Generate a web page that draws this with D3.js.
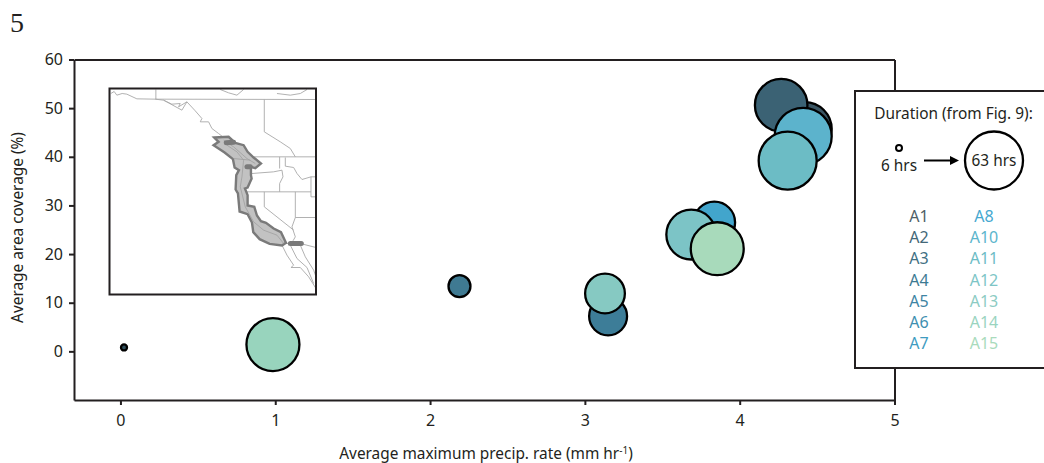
<!DOCTYPE html>
<html>
<head>
<meta charset="utf-8">
<script src="https://cdn.jsdelivr.net/npm/d3@7"></script>
<style>
body { margin: 0; background: white; }
text { font-family: "Noto Sans", "Open Sans", sans-serif; fill: #231f20; }
.tick text { font-size: 16px; }
.tick line, .domain { stroke: #231f20; stroke-width: 2px; }
</style>
</head>
<body>
<svg id="chart" width="1044" height="463"></svg>
<script>
// values, drawing order is back to front
const regimes = ["A1", "A2", "A3", "A4", "A5", "A8", "A10", "A11", "A12", "A13", "A14", "A15"]
const precipRate = [4.42, 4.268, 0.023, 2.19, 3.15, 3.836, 4.41, 4.31, 3.687, 3.13, 0.985, 3.855]
const areaCoverage = [45.7, 50.6, 0.8, 13.4, 7.2, 26.5, 44.2, 39.2, 24, 11.9, 1.4, 21.1]
const durationHrs = [58.6, 57, 6, 23.5, 41, 45, 62, 63, 54, 43, 57.5, 57.5]
const bubbleColors = ["#3a5563", "#3b6274", "#2f4f5c", "#3f7a92", "#3d7d98", "#42a5cc", "#5cb3cc", "#6cbcc5", "#7cc4c6", "#86c9c2", "#98d4bd", "#a8dabb"]

const xTicks = [0, 1, 2, 3, 4, 5]
const yTicks = [0, 10, 20, 30, 40, 50, 60]

const legendCol1 = ["A1", "A2", "A3", "A4", "A5", "A6", "A7"]
const legendCol2 = ["A8", "A10", "A11", "A12", "A13", "A14", "A15"]
const legendCol1Colors = ["#4f5f68", "#436777", "#3f7083", "#3d7a92", "#3e84a3", "#3f8fb0", "#3f9cc1"]
const legendCol2Colors = ["#46a8d0", "#5cb5cc", "#6cbcc5", "#7dc5c6", "#8ccbc3", "#9ad4bf", "#a9dbbc"]

// inset map, traced in its own grid (box is 28-647 by 25-643)
const mapBorders = [
    [[32, 40], [42, 34], [50, 45], [66, 40], [80, 42], [110, 56], [165, 57], [190, 60], [215, 72], [240, 70], [235, 80], [260, 65], [285, 92], [305, 115], [300, 125], [325, 125], [335, 145], [355, 160], [370, 172]],
    [[190, 60], [245, 90], [260, 65]],
    [[167, 28], [167, 57]],
    [[165, 57], [647, 58]],
    [[360, 28], [385, 38], [410, 45], [430, 28]],
    [[530, 40], [570, 45], [600, 40], [620, 28]],
    [[492, 58], [492, 155], [540, 185], [570, 205], [585, 230]],
    [[460, 230], [647, 230]],
    [[538, 230], [538, 265]],
    [[440, 285], [455, 280], [520, 275], [545, 270], [548, 290], [538, 310], [538, 335]],
    [[555, 232], [555, 258], [580, 262], [590, 280], [605, 298], [632, 290], [647, 290]],
    [[632, 290], [632, 350], [647, 350]],
    [[440, 335], [632, 335]],
    [[492, 335], [492, 380], [580, 450]],
    [[585, 335], [585, 412], [647, 412]],
    [[585, 412], [575, 440], [585, 470], [578, 482]],
    [[555, 490], [600, 490], [647, 502]],
    [[545, 495], [560, 525], [580, 555], [572, 562], [600, 562], [625, 590], [647, 625]],
    [[570, 495], [590, 535], [620, 562], [640, 610]],
    [[600, 495], [615, 530], [640, 570], [647, 590]]
]
const mapRegion = [[342, 172], [385, 170], [405, 188], [430, 195], [442, 215], [460, 232], [482, 250], [465, 264], [452, 260], [452, 285], [454, 295], [442, 322], [434, 325], [442, 345], [442, 376], [462, 380], [470, 406], [482, 423], [497, 428], [520, 445], [542, 456], [557, 488], [545, 496], [508, 491], [478, 477], [459, 456], [455, 427], [442, 402], [418, 394], [413, 340], [406, 328], [408, 285], [416, 270], [403, 262], [398, 237], [373, 217], [340, 195], [355, 185]]
const mapRegionInner = [
    [[380, 195], [410, 215], [430, 240], [425, 290], [420, 320], [435, 380], [460, 425], [490, 450], [530, 465], [550, 490]],
    [[370, 180], [400, 200], [440, 235], [465, 250]],
    [[400, 235], [450, 240]]
]
const mapPatches = [
    [[378, 188], [400, 186]],
    [[440, 260], [450, 260]],
    [[570, 490], [603, 490]]
]

const svg = d3.select("#chart")

const x = d3.scaleLinear().domain([-0.3, 5]).range([74, 894.5])
const y = d3.scaleLinear().domain([-10, 60]).range([400, 59.5])
const r = d3.scaleLinear().domain([6, 63]).range([3, 29])

svg.append("text")
    .attr("x", 10)
    .attr("y", 32)
    .style("font-family", "'Liberation Serif', serif")
    .style("font-size", "28px")
    .text("5")

// frame
svg.append("g")
    .attr("transform", "translate(0,400)")
    .call(d3.axisBottom(x).tickValues(xTicks).tickFormat(d3.format("d")).tickSize(5).tickSizeOuter(0).tickPadding(10))
svg.append("g")
    .attr("transform", "translate(74,0)")
    .call(d3.axisLeft(y).tickValues(yTicks).tickFormat(d3.format("d")).tickSize(5).tickSizeOuter(0).tickPadding(6))
svg.append("g")
    .attr("transform", "translate(0,59.5)")
    .call(d3.axisTop(x).tickValues([]).tickSizeOuter(0))
svg.append("g")
    .attr("transform", "translate(894.5,0)")
    .call(d3.axisRight(y).tickValues([]).tickSizeOuter(0))

svg.append("text")
    .attr("x", 486)
    .attr("y", 459)
    .attr("text-anchor", "middle")
    .style("font-size", "15.4px")
    .text("Average maximum precip. rate (mm hr")
    .append("tspan")
    .attr("dy", -5)
    .style("font-size", "10px")
    .text("-1")
    .select(function () { return this.parentNode })
    .append("tspan")
    .attr("dy", 5)
    .text(")")

svg.append("text")
    .attr("transform", "translate(23,227.5) rotate(-90)")
    .attr("text-anchor", "middle")
    .style("font-size", "15.4px")
    .text("Average area coverage (%)")

// inset map
const mapX = d3.scaleLinear().domain([28, 647]).range([109.5, 316])
const mapY = d3.scaleLinear().domain([25, 643]).range([88.5, 294.5])
const mapLine = d3.line().x(d => mapX(d[0])).y(d => mapY(d[1]))

const inset = svg.append("g")
inset.append("rect")
    .attr("x", mapX(28))
    .attr("y", mapY(25))
    .attr("width", mapX(647) - mapX(28))
    .attr("height", mapY(643) - mapY(25))
    .attr("fill", "white")

inset.selectAll(".border")
    .data(mapBorders)
    .enter().append("path")
    .attr("class", "border")
    .attr("d", mapLine)
    .attr("fill", "none")
    .attr("stroke", "#a8a8a8")
    .attr("stroke-width", 0.9)

inset.append("path")
    .attr("d", mapLine(mapRegion) + "Z")
    .attr("fill", "#c2c2c2")
    .attr("stroke", "#7a7a7a")
    .attr("stroke-width", 2.4)

inset.selectAll(".inner")
    .data(mapRegionInner)
    .enter().append("path")
    .attr("class", "inner")
    .attr("d", mapLine)
    .attr("fill", "none")
    .attr("stroke", "#a0a0a0")
    .attr("stroke-width", 0.8)

inset.selectAll(".patch")
    .data(mapPatches)
    .enter().append("path")
    .attr("class", "patch")
    .attr("d", mapLine)
    .attr("fill", "none")
    .attr("stroke", "#7a7a7a")
    .attr("stroke-width", 5)
    .attr("stroke-linecap", "round")

inset.append("rect")
    .attr("x", mapX(28))
    .attr("y", mapY(25))
    .attr("width", mapX(647) - mapX(28))
    .attr("height", mapY(643) - mapY(25))
    .attr("fill", "none")
    .attr("stroke", "#231f20")
    .attr("stroke-width", 2)

// bubbles
svg.append("g")
    .selectAll("circle")
    .data(regimes)
    .enter().append("circle")
    .attr("cx", (d, i) => x(precipRate[i]))
    .attr("cy", (d, i) => y(areaCoverage[i]))
    .attr("r", (d, i) => r(durationHrs[i]))
    .attr("fill", (d, i) => bubbleColors[i])
    .attr("stroke", "black")
    .attr("stroke-width", 2.3)

// legend, runs off the right edge
const legend = svg.append("g")
legend.append("rect")
    .attr("x", 855)
    .attr("y", 91)
    .attr("width", 200)
    .attr("height", 277)
    .attr("fill", "white")
    .attr("stroke", "#231f20")
    .attr("stroke-width", 2)

legend.append("text")
    .attr("x", 953.5)
    .attr("y", 119)
    .attr("text-anchor", "middle")
    .style("font-size", "15.4px")
    .text("Duration (from Fig. 9):")

legend.append("circle")
    .attr("cx", 899)
    .attr("cy", 148)
    .attr("r", r(6))
    .attr("fill", "white")
    .attr("stroke", "black")
    .attr("stroke-width", 2)
legend.append("text")
    .attr("x", 899)
    .attr("y", 171)
    .attr("text-anchor", "middle")
    .style("font-size", "15.4px")
    .text("6 hrs")

legend.append("line")
    .attr("x1", 924)
    .attr("x2", 952)
    .attr("y1", 160.5)
    .attr("y2", 160.5)
    .attr("stroke", "black")
    .attr("stroke-width", 2)
legend.append("path")
    .attr("d", d3.line()([[950, 156], [959, 160.5], [950, 165]]) + "Z")
    .attr("fill", "black")

legend.append("circle")
    .attr("cx", 994)
    .attr("cy", 160.5)
    .attr("r", r(63))
    .attr("fill", "white")
    .attr("stroke", "black")
    .attr("stroke-width", 2.3)
legend.append("text")
    .attr("x", 994)
    .attr("y", 165.5)
    .attr("text-anchor", "middle")
    .style("font-size", "15.4px")
    .text("63 hrs")

const legendRow = d3.scalePoint().domain(d3.range(7)).range([222, 349])

legend.selectAll(".col1")
    .data(legendCol1)
    .enter().append("text")
    .attr("class", "col1")
    .attr("x", 919)
    .attr("y", (d, i) => legendRow(i))
    .attr("text-anchor", "middle")
    .style("font-size", "16px")
    .style("fill", (d, i) => legendCol1Colors[i])
    .text(d => d)

legend.selectAll(".col2")
    .data(legendCol2)
    .enter().append("text")
    .attr("class", "col2")
    .attr("x", 984)
    .attr("y", (d, i) => legendRow(i))
    .attr("text-anchor", "middle")
    .style("font-size", "16px")
    .style("fill", (d, i) => legendCol2Colors[i])
    .text(d => d)
</script>
</body>
</html>
